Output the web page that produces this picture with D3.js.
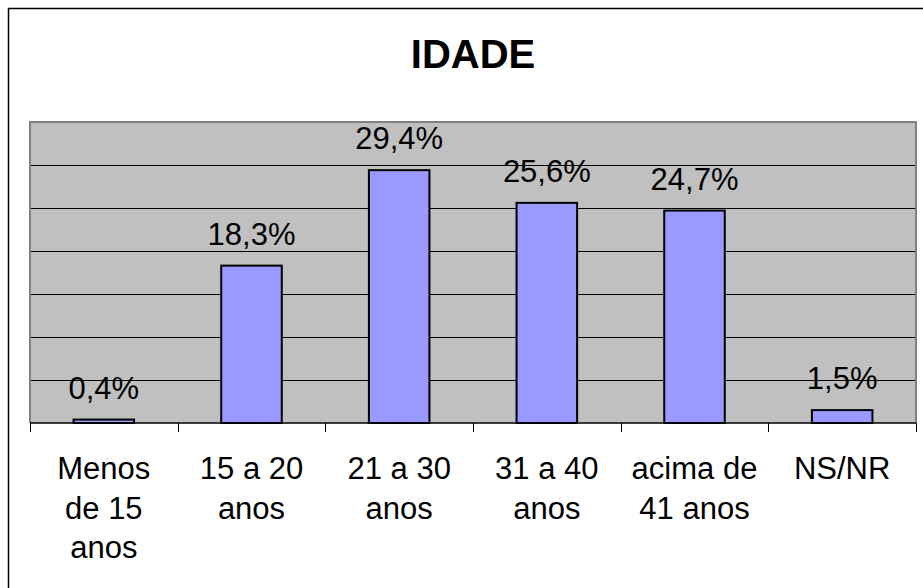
<!DOCTYPE html>
<html>
<head>
<meta charset="utf-8">
<script src="https://cdn.jsdelivr.net/npm/d3@7"></script>
<style>
  body { margin: 0; background: #fff; }
  text { font-family: Arial, "Liberation Sans", sans-serif; }
</style>
</head>
<body>
<div id="chart"></div>
<script>
"use strict";

const categories = [
  ["Menos", "de 15", "anos"],
  ["15 a 20", "anos"],
  ["21 a 30", "anos"],
  ["31 a 40", "anos"],
  ["acima de", "41 anos"],
  ["NS/NR"]
];
const values = [0.4, 18.3, 29.4, 25.6, 24.7, 1.5];
const valueLabels = ["0,4%", "18,3%", "29,4%", "25,6%", "24,7%", "1,5%"];
const gridTicks = [5, 10, 15, 20, 25, 30];

const width = 923, height = 588;
const plot = { left: 30, top: 122, right: 916, bottom: 423 };

const svg = d3.select("#chart").append("svg")
  .attr("width", width)
  .attr("height", height);

// outer frame (runs off the right and bottom of the picture)
svg.append("rect")
  .attr("x", 8.5).attr("y", 8.5)
  .attr("width", width + 20).attr("height", height + 20)
  .attr("fill", "#fff")
  .attr("stroke", "#000")
  .attr("stroke-width", 1.5);

svg.append("text")
  .attr("x", 473).attr("y", 68)
  .attr("text-anchor", "middle")
  .attr("font-size", 40)
  .attr("font-weight", "bold")
  .text("IDADE");

const idx = d3.range(categories.length);
const x = d3.scaleBand().domain(idx).range([plot.left, plot.right]);
const y = d3.scaleLinear().domain([0, 35]).range([plot.bottom, plot.top]);

svg.append("rect")
  .attr("x", plot.left).attr("y", plot.top)
  .attr("width", plot.right - plot.left)
  .attr("height", plot.bottom - plot.top)
  .attr("fill", "#c0c0c0");

svg.append("g").selectAll("line")
  .data(gridTicks)
  .join("line")
  .attr("x1", plot.left).attr("x2", plot.right)
  .attr("y1", d => Math.round(y(d)) + 0.5)
  .attr("y2", d => Math.round(y(d)) + 0.5)
  .attr("stroke", "#000")
  .attr("stroke-width", 1);

// plot border (gray)
svg.append("path")
  .attr("d", `M${plot.left},${plot.bottom}V${plot.top}H${plot.right}V${plot.bottom}`)
  .attr("fill", "none")
  .attr("stroke", "#808080")
  .attr("stroke-width", 2);

const barW = x.bandwidth() * 0.41;
svg.append("g").selectAll("rect")
  .data(idx)
  .join("rect")
  .attr("x", i => x(i) + (x.bandwidth() - barW) / 2)
  .attr("y", i => y(values[i]))
  .attr("width", barW)
  .attr("height", i => y(0) - y(values[i]))
  .attr("fill", "#9999ff")
  .attr("stroke", "#000")
  .attr("stroke-width", 2);

svg.append("g").selectAll("text")
  .data(idx)
  .join("text")
  .attr("x", i => x(i) + x.bandwidth() / 2)
  .attr("y", i => y(values[i]) - 21)
  .attr("text-anchor", "middle")
  .attr("font-size", 31)
  .text(i => valueLabels[i]);

// category axis
const xAxis = svg.append("g");
xAxis.append("line")
  .attr("x1", plot.left).attr("x2", plot.right)
  .attr("y1", plot.bottom).attr("y2", plot.bottom)
  .attr("stroke", "#000").attr("stroke-width", 1.5);
xAxis.selectAll("line.tick")
  .data(idx.concat([categories.length]))
  .join("line")
  .attr("class", "tick")
  .attr("x1", i => Math.round(i < categories.length ? x(i) : plot.right) + 0.5)
  .attr("x2", i => Math.round(i < categories.length ? x(i) : plot.right) + 0.5)
  .attr("y1", plot.bottom).attr("y2", plot.bottom + 9)
  .attr("stroke", "#000");

xAxis.selectAll("text.cat")
  .data(idx)
  .join("text")
  .attr("class", "cat")
  .attr("text-anchor", "middle")
  .attr("font-size", 31)
  .attr("y", plot.bottom + 56)
  .each(function (i) {
    const t = d3.select(this);
    categories[i].forEach((line, k) => {
      t.append("tspan")
        .attr("x", x(i) + x.bandwidth() / 2)
        .attr("dy", k === 0 ? 0 : 39.5)
        .text(line);
    });
  });
</script>
</body>
</html>
